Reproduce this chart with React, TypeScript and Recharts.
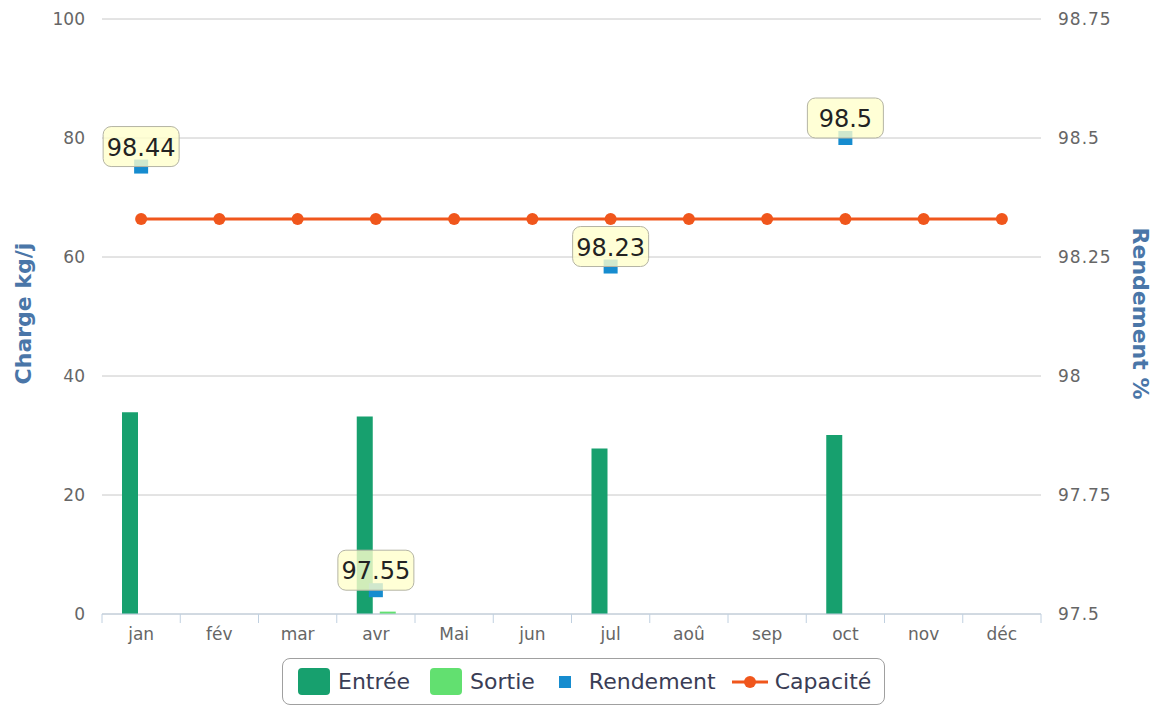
import React from 'react';
import { ComposedChart, Bar, Line, Scatter, XAxis, YAxis, CartesianGrid, Legend, LabelList } from 'recharts';

const months = ['jan', 'fév', 'mar', 'avr', 'Mai', 'jun', 'jul', 'aoû', 'sep', 'oct', 'nov', 'déc'];
const entree = [33.9, null, null, 33.2, null, null, 27.8, null, null, 30.1, null, null];
const sortie = [null, null, null, 0.4, null, null, null, null, null, null, null, null];
const rendement = [98.44, null, null, 97.55, null, null, 98.23, null, null, 98.5, null, null];
const capacite = [66.4, 66.4, 66.4, 66.4, 66.4, 66.4, 66.4, 66.4, 66.4, 66.4, 66.4, 66.4];

const leftTicks = [0, 20, 40, 60, 80, 100];
const rightTicks = [97.5, 97.75, 98, 98.25, 98.5, 98.75];

const colors = {
  entree: '#17a06e',
  sortie: '#62e070',
  rendement: '#168ccf',
  capacite: '#f0561c',
  title: '#4a76a8',
  tick: '#666666',
};

const FONT = '"DejaVu Sans", Verdana, sans-serif';

const data = months.map((m, i) => ({
  month: m,
  entree: entree[i],
  sortie: sortie[i],
  rendement: rendement[i],
  capacite: capacite[i],
}));

const MonthTick = (props: any) => {
  const { x, y, payload, index, visibleTicksCount } = props;
  const half = payload.offset || 0;
  const isLast = index === visibleTicksCount - 1;
  return (
    <g>
      <line x1={x - half} y1={y} x2={x - half} y2={y + 9} stroke="#c0d0e0" />
      {isLast && <line x1={x + half} y1={y} x2={x + half} y2={y + 9} stroke="#c0d0e0" />}
      <text x={x} y={y + 20} textAnchor="middle" dominantBaseline="central" fill={colors.tick} fontSize={17} fontFamily={FONT}>
        {payload.value}
      </text>
    </g>
  );
};

const SquareDot = (props: any) => {
  const { cx, cy, payload } = props;
  if (payload == null || payload.rendement == null) return null;
  return <rect x={cx - 7} y={cy - 7} width={14} height={14} fill={colors.rendement} />;
};

const ValueBox = (props: any) => {
  const { x, y, width, height, value } = props;
  if (value == null) return null;
  const cx = x + width / 2;
  const cy = y + height / 2;
  return (
    <g>
      <rect x={cx - 38} y={cy - 40} width={76} height={40} rx={8} ry={8} fill="#ffffcc" fillOpacity={0.8} stroke="#b4b4a4" strokeWidth={1} />
      <text x={cx} y={cy - 19} textAnchor="middle" dominantBaseline="central" fill="#222" fontSize={24} fontFamily={FONT}>
        {value}
      </text>
    </g>
  );
};

const AxisTitle = (text: string, side: 'left' | 'right') => (props: any) => {
  const vb = props.viewBox || {};
  const cx = side === 'left' ? vb.x + 23 : vb.x + vb.width - 19;
  const cy = vb.y + vb.height / 2 - 3;
  const angle = side === 'left' ? -90 : 90;
  return (
    <text x={cx} y={cy} transform={`rotate(${angle} ${cx} ${cy})`} textAnchor="middle" dominantBaseline="central" fill={colors.title} fontSize={22} fontWeight="bold" fontFamily={FONT}>
      {text}
    </text>
  );
};

const legendItems = [
  { name: 'Entrée', kind: 'box', color: colors.entree, gap: 0 },
  { name: 'Sortie', kind: 'box', color: colors.sortie, gap: 20 },
  { name: 'Rendement', kind: 'square', color: colors.rendement, gap: 24 },
  { name: 'Capacité', kind: 'line', color: colors.capacite, gap: 16 },
];

const CustomLegend = () => (
  <div
    style={{
      display: 'flex',
      alignItems: 'center',
      width: 603,
      height: 47,
      boxSizing: 'border-box',
      border: '1px solid #a0a0a0',
      borderRadius: 8,
      paddingLeft: 15,
      fontFamily: FONT,
      fontSize: 22,
      color: '#3a3d55',
      background: '#fff',
    }}
  >
    {legendItems.map(item => (
      <div key={item.name} style={{ display: 'flex', alignItems: 'center', marginLeft: item.gap }}>
        {item.kind === 'box' && (
          <span style={{ width: 32, height: 27, borderRadius: 4, background: item.color, marginRight: 8, display: 'inline-block' }} />
        )}
        {item.kind === 'square' && (
          <span style={{ width: 12, height: 12, background: item.color, margin: '0 18px 0 0', display: 'inline-block' }} />
        )}
        {item.kind === 'line' && (
          <svg width={36} height={14} style={{ marginRight: 7 }}>
            <line x1={0} y1={7} x2={36} y2={7} stroke={item.color} strokeWidth={3} />
            <circle cx={18} cy={7} r={6} fill={item.color} />
          </svg>
        )}
        <span>{item.name}</span>
      </div>
    ))}
  </div>
);

export default function App() {
  return (
    <div style={{ position: 'absolute', left: 0, top: 0, width: 1159, height: 707, background: '#fff' }}>
      <ComposedChart
        width={1159}
        height={707}
        data={data}
        margin={{ top: 19, right: 0, left: 0, bottom: 53 }}
        barSize={16}
        barGap={7}
      >
        <CartesianGrid vertical={false} stroke="#c8c8c8" yAxisId="left" />
        <XAxis
          dataKey="month"
          tickLine={false}
          tickSize={0}
          tickMargin={0}
          height={40}
          axisLine={{ stroke: '#c0d0e0' }}
          tick={<MonthTick />}
          interval={0}
        />
        <YAxis
          yAxisId="left"
          orientation="left"
          width={102}
          domain={[0, 100]}
          ticks={leftTicks}
          tickLine={false}
          axisLine={false}
          tickSize={0}
          tickMargin={17}
          tick={{ fill: colors.tick, fontSize: 17, fontFamily: FONT }}
          label={AxisTitle('Charge kg/j', 'left')}
        />
        <YAxis
          yAxisId="right"
          orientation="right"
          width={118}
          domain={[97.5, 98.75]}
          ticks={rightTicks}
          tickLine={false}
          axisLine={false}
          tickSize={0}
          tickMargin={17}
          tick={{ fill: colors.tick, fontSize: 17, fontFamily: FONT, letterSpacing: 1 }}
          label={AxisTitle('Rendement %', 'right')}
        />
        <Bar yAxisId="left" dataKey="entree" name="Entrée" fill={colors.entree} isAnimationActive={false} />
        <Bar yAxisId="left" dataKey="sortie" name="Sortie" fill={colors.sortie} isAnimationActive={false} />
        <Line
          yAxisId="left"
          type="linear"
          dataKey="capacite"
          name="Capacité"
          stroke={colors.capacite}
          strokeWidth={3}
          dot={{ r: 6, fill: colors.capacite, stroke: 'none' }}
          activeDot={false}
          isAnimationActive={false}
        />
        <Scatter yAxisId="right" dataKey="rendement" name="Rendement" fill={colors.rendement} shape={<SquareDot />} isAnimationActive={false}>
          <LabelList dataKey="rendement" content={<ValueBox />} />
        </Scatter>
        <Legend
          verticalAlign="bottom"
          content={<CustomLegend />}
          wrapperStyle={{ position: 'absolute', left: 282, top: 658, width: 603, height: 0 }}
        />
      </ComposedChart>
    </div>
  );
}
